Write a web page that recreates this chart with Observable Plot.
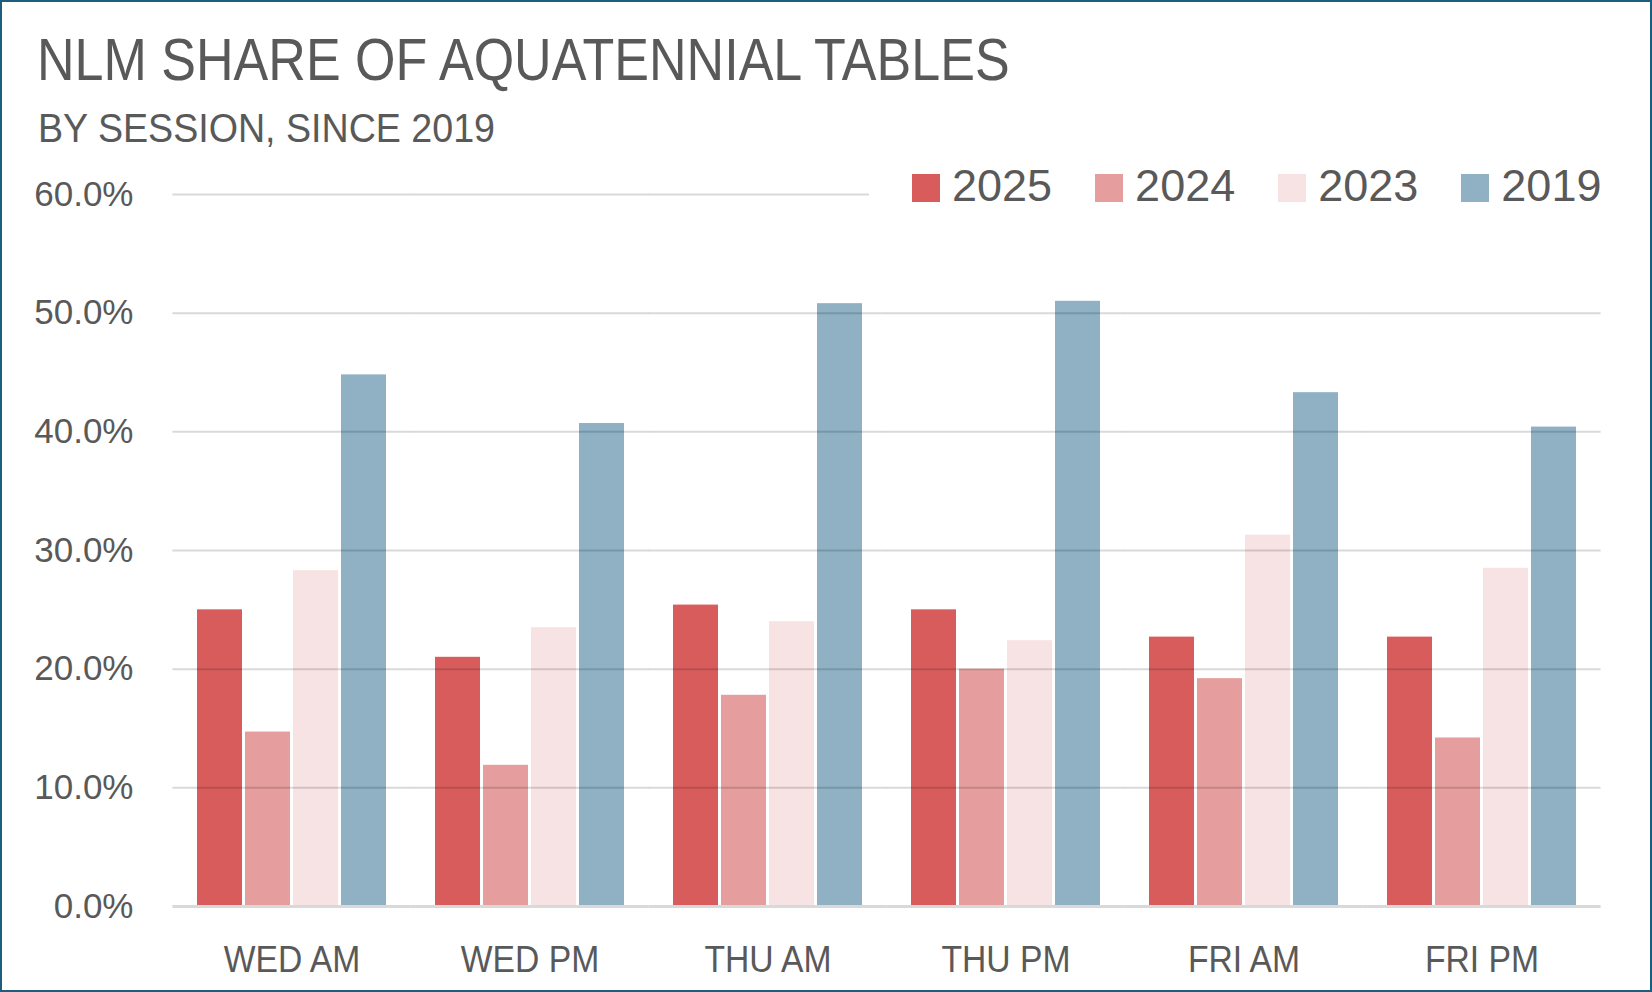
<!DOCTYPE html>
<html>
<head>
<meta charset="utf-8">
<script src="https://cdn.jsdelivr.net/npm/d3@7"></script>
<script src="https://cdn.jsdelivr.net/npm/@observablehq/plot@0.6"></script>
<style>
html, body { margin: 0; padding: 0; background: #fff; }
#wrap { position: relative; width: 1652px; height: 992px; overflow: hidden; background: #fff;
  font-family: "Liberation Sans", Arial, sans-serif; color: #595959; }
#wrap::after { content: ""; position: absolute; inset: 0; border: 2px solid #1b5e7d; pointer-events: none; }
.title { position: absolute; left: 37px; top: 31px; font-size: 59px; line-height: 1; white-space: nowrap;
  transform: scaleX(0.882); transform-origin: left top; }
.subtitle { position: absolute; left: 38px; top: 108px; font-size: 40px; line-height: 1; white-space: nowrap;
  transform: scaleX(0.94); transform-origin: left top; }
#chart { position: absolute; left: 2px; top: 150px; }
.legend { position: absolute; left: 869px; top: 163px; padding-left: 43px; padding-right: 10px; height: 45px;
  background: #fff; display: flex; }
.item { display: flex; align-items: flex-start; margin-right: 43px; }
.item:last-child { margin-right: 0; }
.sw { width: 28px; height: 28px; margin-top: 11px; margin-right: 12px; }
.lab { font-size: 45px; line-height: 45px; }
#chart [aria-label^="fx-axis"] text { font-size: 37px; }
</style>
</head>
<body>
<div id="wrap">
  <div class="title">NLM SHARE OF AQUATENNIAL TABLES</div>
  <div class="subtitle">BY SESSION, SINCE 2019</div>
  <div id="chart"></div>
  <div class="legend" id="legend"></div>
</div>
<script>
// ---- data ----
const sessions = ["WED AM", "WED PM", "THU AM", "THU PM", "FRI AM", "FRI PM"];
const years = ["2025", "2024", "2023", "2019"];
const share2025 = [25.0, 21.0, 25.4, 25.0, 22.7, 22.7];
const share2024 = [14.7, 11.9, 17.8, 20.0, 19.2, 14.2];
const share2023 = [28.3, 23.5, 24.0, 22.4, 31.3, 28.5];
const share2019 = [44.8, 40.7, 50.8, 51.0, 43.3, 40.4];
const yTicks = [0, 10, 20, 30, 40, 50, 60];
const yearColors = ["#d95c5c", "#e69d9d", "#f8e3e4", "#8fb1c3"];

const seriesByYear = { "2025": share2025, "2024": share2024, "2023": share2023, "2019": share2019 };
const rows = [];
sessions.forEach((s, i) => {
  years.forEach(y => rows.push({ session: s, year: y, value: seriesByYear[y][i] / 100 }));
});

// ---- layout ----
const W = 1648, H = 840;
const mL = 170, mR = 50, mT = 44, mB = 84;
const fxPad = 0.19;
const step = (W - mL - mR) / sessions.length;
const ext = -step * fxPad / 2; // extend rules across facet gaps

const chart = Plot.plot({
  width: W,
  height: H,
  marginTop: mT,
  marginBottom: mB,
  marginLeft: mL,
  marginRight: mR,
  style: { background: "white", fontFamily: "'Liberation Sans', Arial, sans-serif", fontSize: "35px", color: "#595959" },
  fx: { domain: sessions, paddingInner: fxPad, paddingOuter: fxPad / 2, label: null, axis: "bottom", tickSize: 0, tickPadding: 39 },
  x: { domain: years, paddingInner: 0.06, paddingOuter: 0, axis: null },
  y: { domain: [0, 0.6], ticks: yTicks.map(d => d / 100), tickFormat: d => (d * 100).toFixed(1) + "%", label: null, tickSize: 0, tickPadding: 62 },
  color: { domain: years, range: yearColors },
  marks: [
    Plot.barY(rows, { fx: "session", x: "year", y: "value", fill: "year" }),
    Plot.ruleY(yTicks.slice(1).map(d => d / 100), { stroke: "#000", strokeOpacity: 0.15, strokeWidth: 2, insetLeft: ext, insetRight: ext }),
    Plot.ruleY([0], { stroke: "#d9d9d9", strokeWidth: 3, insetLeft: ext, insetRight: ext })
  ]
});
document.getElementById("chart").appendChild(chart);

// condense the session labels slightly
d3.select(chart).selectAll('[aria-label^="fx-axis"] text').each(function () {
  const t = this.getAttribute("transform") || "";
  this.setAttribute("transform", t + " scale(0.91,1)");
});

// ---- legend ----
const legend = d3.select("#legend");
years.forEach((y, i) => {
  const it = legend.append("div").attr("class", "item");
  it.append("div").attr("class", "sw").style("background", yearColors[i]);
  it.append("div").attr("class", "lab").text(y);
});
</script>
</body>
</html>
